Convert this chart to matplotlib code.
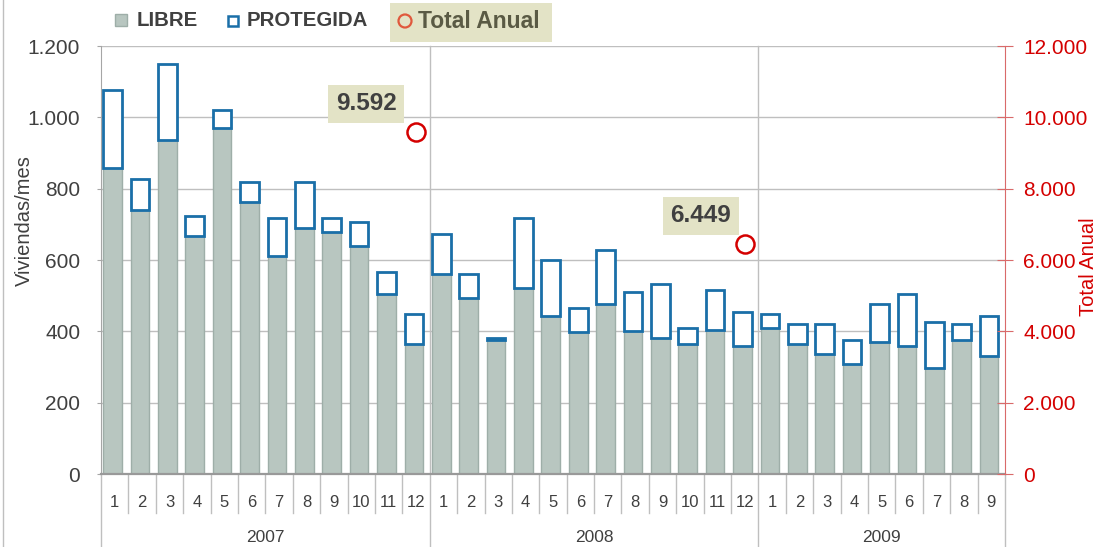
import matplotlib
matplotlib.use("Agg")
import matplotlib.pyplot as plt
from matplotlib.patches import Rectangle, Ellipse
from matplotlib.ticker import FuncFormatter, MultipleLocator
import numpy as np

plt.rcParams['font.family'] = ['Liberation Sans', 'DejaVu Sans']

# ---------------- data ----------------
years = ["2007", "2008", "2009"]
months_per_year = [12, 12, 9]
month_labels = [str(m) for n in months_per_year for m in range(1, n + 1)]

libre = [857, 740, 937, 668, 969, 762, 611, 691, 679, 639, 504, 365,
         560, 493, 376, 522, 444, 397, 477, 402, 381, 365, 403, 360,
         408, 365, 336, 308, 370, 358, 296, 375, 330]
protegida = [220, 86, 213, 56, 52, 57, 108, 128, 40, 68, 63, 84,
             114, 68, 5, 196, 156, 69, 151, 108, 152, 45, 114, 94,
             42, 56, 85, 68, 107, 147, 130, 46, 114]
total_anual = [9592, 6449]
total_labels = ["9.592", "6.449"]

# ---------------- styling ----------------
C_LIBRE = '#b8c6c0'
C_LIBRE_EDGE = '#9eaea8'
C_PROT = '#1a6fa8'
C_RED = '#d40000'
C_TXT = '#404040'
C_GRID = '#bfbfbf'
C_BOX = '#e3e3c6'

W, H = 1097, 547
fig = plt.figure(figsize=(W / 100, H / 100), dpi=100)
ax = fig.add_axes([101 / W, (H - 474) / H, 904 / W, 428 / H])

x = np.arange(len(libre))
ax.bar(x - 0.08, libre, width=0.68, color=C_LIBRE, edgecolor=C_LIBRE_EDGE, linewidth=1, zorder=2)
ax.bar(x - 0.08, protegida, bottom=libre, width=0.68, color='white', edgecolor=C_PROT,
       linewidth=2, zorder=3)

ax.set_xlim(-0.5, len(libre) - 0.5)
ax.set_ylim(0, 1200)
ax.yaxis.set_major_locator(MultipleLocator(200))
fmt = FuncFormatter(lambda v, p: f"{int(v):,}".replace(",", "."))
ax.yaxis.set_major_formatter(fmt)
ax.yaxis.grid(True, color=C_GRID, linewidth=1)
ax.set_axisbelow(True)
ax.set_xticks([])
ax.tick_params(axis='y', labelsize=15, colors=C_TXT, length=3, pad=12, color='#a6a6a6')
for s in ['top', 'right']:
    ax.spines[s].set_visible(False)
ax.spines['left'].set_color('#a6a6a6')
ax.spines['bottom'].set_color('#999999')
ax.spines['bottom'].set_linewidth(1.6)
ax.spines['bottom'].set_zorder(5)

# category axis (months + years)
xt = ax.get_xaxis_transform()
bounds = np.cumsum([0] + months_per_year) - 0.5
for i, lab in enumerate(month_labels):
    ax.text(i, -0.066, lab, transform=xt, ha='center', va='center', fontsize=12, color=C_TXT)
for b in np.arange(0.5, len(libre) - 1):
    if b not in bounds:
        ax.plot([b, b], [0, -0.091], transform=xt, clip_on=False, color=C_GRID, lw=1)
for j, b in enumerate(bounds):
    top = 1.0 if 0 < j < len(bounds) - 1 else 0.0
    ax.plot([b, b], [top, -0.1706], transform=xt, clip_on=False, color=C_GRID, lw=1, zorder=1)
for j, yr in enumerate(years):
    ax.text((bounds[j] + bounds[j + 1]) / 2, -0.1495, yr, transform=xt, ha='center',
            va='center', fontsize=12.5, color=C_TXT)

# secondary axis
ax2 = ax.twinx()
ax2.set_ylim(0, 12000)
ax2.yaxis.set_major_locator(MultipleLocator(2000))
ax2.yaxis.set_major_formatter(fmt)
for s in ['top', 'left', 'bottom']:
    ax2.spines[s].set_visible(False)
ax2.spines['right'].set_color('#d96a6a')
ax2.tick_params(axis='y', labelsize=15, colors=C_RED, direction='inout', length=12,
                pad=7, color='#d96a6a')

tot_pos = [int(np.cumsum(months_per_year)[k] - 1) for k in range(len(total_anual))]
ax2.plot(tot_pos, total_anual, linestyle='none', marker='o', markersize=13,
         markerfacecolor='white', markeredgecolor=C_RED, markeredgewidth=1.8, zorder=4)
offsets = [(-50, 28), (-44, 28)]
for p, v, lab, off in zip(tot_pos, total_anual, total_labels, offsets):
    ax2.annotate(lab, xy=(p, v), xytext=off, textcoords='offset pixels', ha='center',
                 va='center', fontsize=17.5, fontweight='bold', color=C_TXT,
                 bbox=dict(boxstyle='square,pad=0.32', fc=C_BOX, ec='none'))

# axis titles
fig.text(24 / W, 1 - 221 / H, "Viviendas/mes", rotation=90, ha='center', va='center',
         fontsize=14.5, color=C_TXT)
fig.text(1088 / W, 1 - 267 / H, "Total Anual", rotation=90, ha='center', va='center',
         fontsize=14.5, color=C_RED)

# legend / frame overlay in pixel coordinates
ov = fig.add_axes([0, 0, 1, 1], zorder=10)
ov.set_xlim(0, W)
ov.set_ylim(H, 0)
ov.axis('off')
ov.patch.set_alpha(0)
ov.plot([3, 3], [0, H], color='#bfbfbf', lw=1)
ov.add_patch(Rectangle((115, 14), 12, 12, fc=C_LIBRE, ec=C_LIBRE_EDGE, lw=1))
ov.text(137, 21, "LIBRE", ha='left', va='center', fontsize=14.7, fontweight='bold', color=C_TXT)
ov.add_patch(Rectangle((227.5, 16), 10, 10, fc='white', ec=C_PROT, lw=1.8))
ov.text(247, 21, "PROTEGIDA", ha='left', va='center', fontsize=14.7, fontweight='bold', color=C_TXT)
ov.add_patch(Rectangle((390, 3), 162, 39, fc=C_BOX, ec='none'))
ov.add_patch(Ellipse((405, 21), 13, 13, fc='none', ec='#e0583c', lw=1.6))
ov.text(418, 21, "Total Anual", ha='left', va='center', fontsize=16.5, fontweight='bold',
        color='#5a5a44')

fig.savefig("out.png", dpi=100)
